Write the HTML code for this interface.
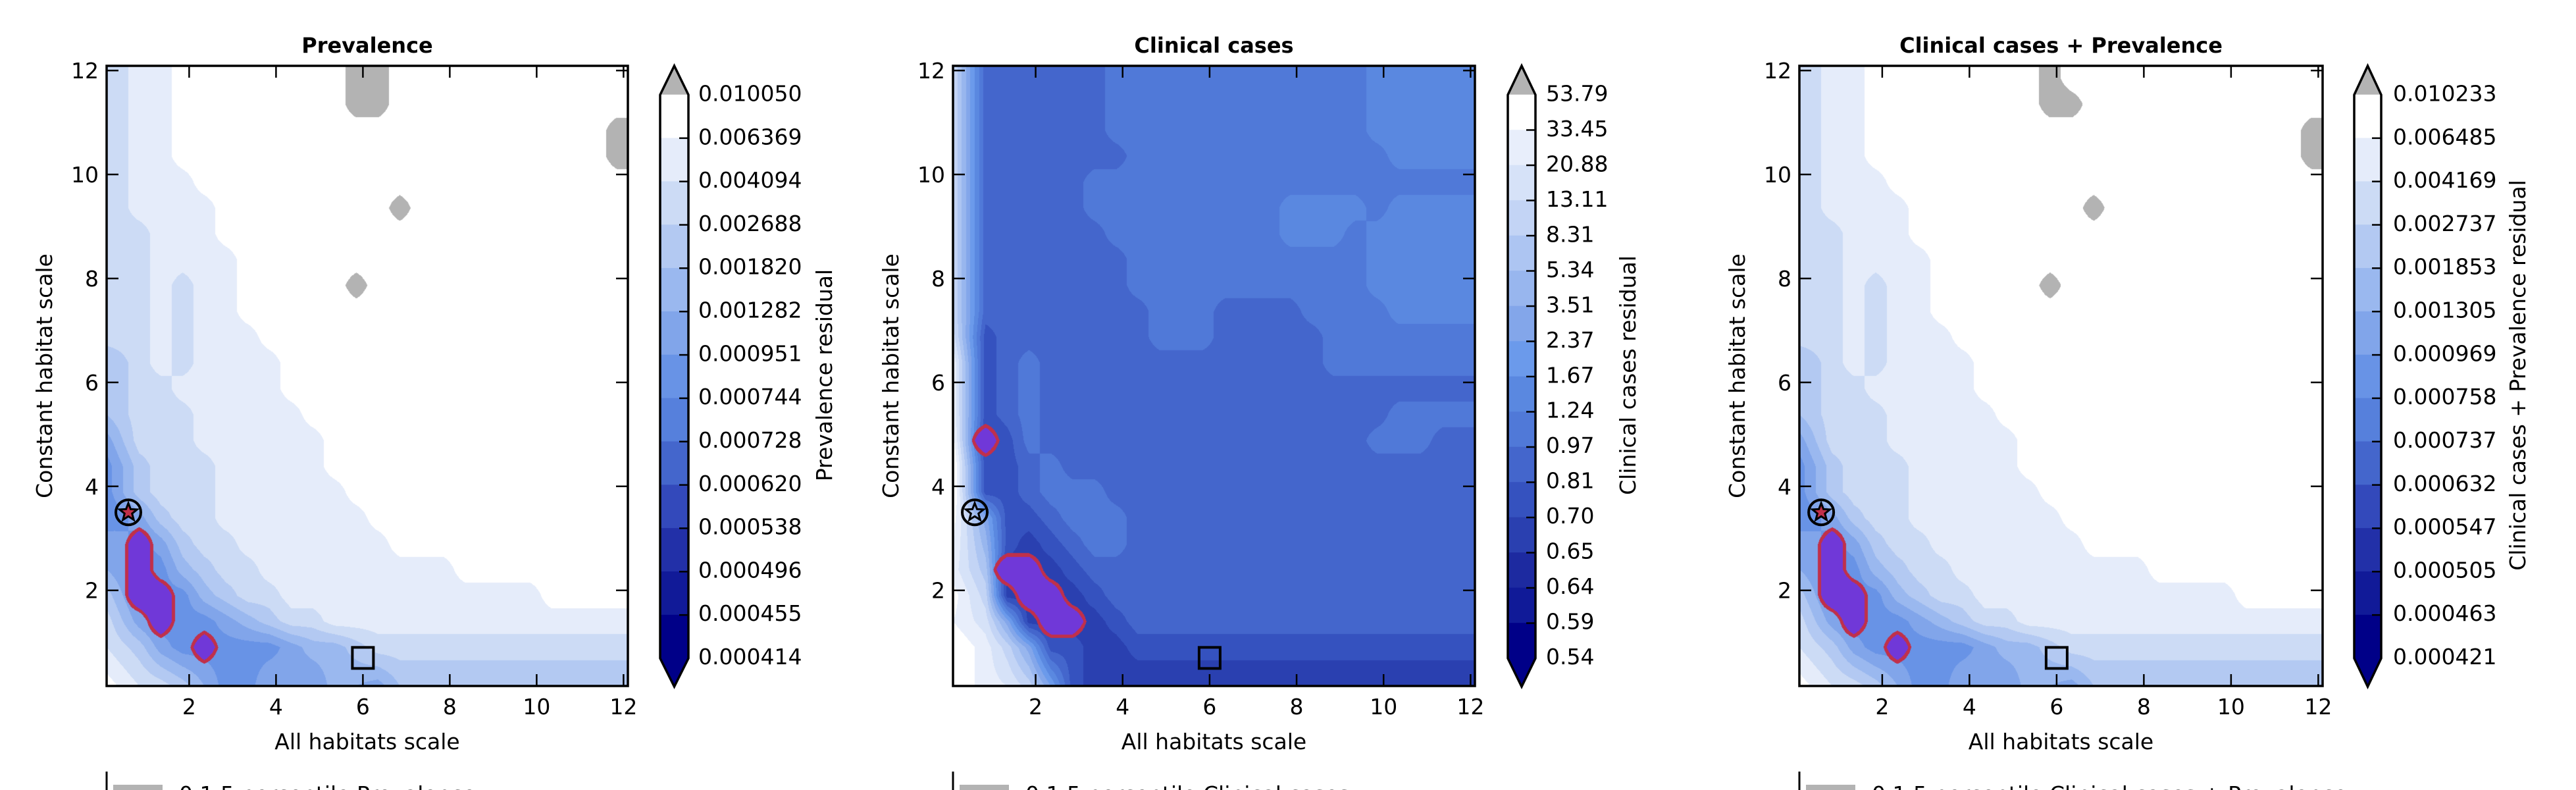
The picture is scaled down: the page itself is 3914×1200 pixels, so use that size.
<!DOCTYPE html>
<html><head><meta charset="utf-8"><style>
html,body{margin:0;padding:0;background:#fff;width:3914px;height:1200px;overflow:hidden;position:relative}
svg{display:block;position:absolute;left:0;top:0;font-family:"DejaVu Sans","Liberation Sans",sans-serif}
canvas{position:absolute;display:block}
</style></head><body>
<svg id="fig" width="3914" height="1200" viewBox="0 0 3914 1200" xmlns="http://www.w3.org/2000/svg"></svg>
<script>
// ---- data ----
const xTicks = [2,4,6,8,10,12];
const yTicks = [2,4,6,8,10,12];
const prevTicks = ["0.010050","0.006369","0.004094","0.002688","0.001820","0.001282","0.000951","0.000744","0.000728","0.000620","0.000538","0.000496","0.000455","0.000414"];
const clinTicks = ["53.79","33.45","20.88","13.11","8.31","5.34","3.51","2.37","1.67","1.24","0.97","0.81","0.70","0.65","0.64","0.59","0.54"];
const combTicks = ["0.010233","0.006485","0.004169","0.002737","0.001853","0.001305","0.000969","0.000758","0.000737","0.000632","0.000547","0.000505","0.000463","0.000421"];
const starPos = [0.6, 3.5];
const squarePos = [6.0, 0.7];
// level grids: rows from top (y=12) to bottom, 24 columns from x=0.1 to 12.1
const prevRows = [
"21100000000gg00000000000",
"21100000000gg00000000000",
"21100000000000000000000g",
"21100000000000000000000g",
"211100000000000000000000",
"2111100000000g0000000000",
"221110000000000000000000",
"221111000000000000000000",
"22121100000g000000000000",
"221211000000000000000000",
"221211100000000000000000",
"321211110000000000000000",
"322111110000000000000000",
"322211111000000000000000",
"422211111100000000000000",
"532221111100000000000000",
"532221111110000000000000",
"653221111111000000000000",
"5p5322111111100000000000",
"5p6432211111111100000000",
"4pp643221111111111110000",
"35p665432211111111111111",
"2356p6665443222222222222",
"123456655544433333333333"];
const clinRows = [
"5aaaaaa99999999999988888",
"5aaaaaa99999999999988888",
"5aaaaaa99999999999988888",
"5aaaaaaa9999999999998888",
"5aaaaa999999999999999999",
"5aaaaa999999999888898888",
"5aaaaaa99999999888988888",
"5aaaaaaa9999999999988888",
"5aaaaaaa9999999999988888",
"5aaaaaaaa999aaaa99998888",
"5baaaaaaa999aaaaa9999999",
"4ba9aaaaaaaaaaaaa9999999",
"4ba9aaaaaaaaaaaaaaaaaaaa",
"4ba9aaaaaaaaaaaaaaaa9999",
"4pb9aaaaaaaaaaaaaaa999aa",
"3bba9aaaaaaaaaaaaaaaaaaa",
"3bba999aaaaaaaaaaaaaaaaa",
"26bba999aaaaaaaaaaaaaaaa",
"25bcba99aaaaaaaaaaaaaaaa",
"24ppcbaaaaaaaaaaaaaaaaaa",
"13cppcbaaaaaaaaaaaaaaaaa",
"126cppcbaaaaaaaaaaaaaaaa",
"0136bbccbbbbbbbbbbbbbbbb",
"01248bcccccccccccccccccc"];
const combRows = [
"21100000000g000000000000",
"21100000000gg00000000000",
"21100000000000000000000g",
"21100000000000000000000g",
"211100000000000000000000",
"2111100000000g0000000000",
"221110000000000000000000",
"221111000000000000000000",
"22121100000g000000000000",
"221211000000000000000000",
"221211100000000000000000",
"321211110000000000000000",
"322111110000000000000000",
"322211111000000000000000",
"422211111100000000000000",
"532221111100000000000000",
"532221111110000000000000",
"653221111111000000000000",
"5p5322111111100000000000",
"5p6432211111111100000000",
"4pp643221111111111110000",
"35p665432211111111111111",
"2356p6665443222222222222",
"123456655544433333333333"];

const prevColors = ["#ffffff","#e5ecfa","#ccdbf5","#b3c9f2","#9ab8ef","#81a5ea","#6893e6","#5680dc","#4466cc","#3349bb","#2230a8","#111a98","#000088"];
const clinColors = ["#ffffff","#e8eefb","#d6e2f8","#c3d4f5","#adc5f2","#98b6ee","#83a6ea","#6b9aeb","#5a88e0","#5079d8","#4466cc","#3552bf","#2a40b0","#1d2aa0","#101a98","#000088"];

const panels = [
 {name:"prevalence", title:"Prevalence", rows:prevRows, colors:prevColors, pLevel:6, ticks:prevTicks, axL:162, axR:954, cbX:1003, cbW:43, lblX:1061, rotX:1252, cbLabel:"Prevalence residual", legend:"0.1 5 percentile Prevalence", starRed:true},
 {name:"clinical", title:"Clinical cases", rows:clinRows, colors:clinColors, pLevel:12, ticks:clinTicks, axL:1448, axR:2241, cbX:2291, cbW:42, lblX:2349, rotX:2473, cbLabel:"Clinical cases residual", legend:"0.1 5 percentile Clinical cases", starRed:false},
 {name:"combined", title:"Clinical cases + Prevalence", rows:combRows, colors:prevColors, pLevel:6, ticks:combTicks, axL:2734, axR:3529, cbX:3577, cbW:41, lblX:3636, rotX:3825, cbLabel:"Clinical cases + Prevalence residual", legend:"0.1 5 percentile Clinical cases + Prevalence", starRed:true}
];
const axT=100, axB=1042, xmin=0.1, xmax=12.1, ymin=0.16, ymax=12.09;
const NS="http://www.w3.org/2000/svg";
const svg=document.getElementById('fig');
function mk(tag, attrs, parent){const e=document.createElementNS(NS,tag);for(const k in attrs)e.setAttribute(k,attrs[k]);(parent||svg).appendChild(e);return e;}
function hex(c){return [parseInt(c.substr(1,2),16),parseInt(c.substr(3,2),16),parseInt(c.substr(5,2),16)];}

function drawField(p){
  const W=p.axR-p.axL, H=axB-axT;
  const cv=document.createElement('canvas');
  cv.width=W; cv.height=H;
  cv.style.left=p.axL+'px'; cv.style.top=axT+'px';
  
  
  document.body.insertBefore(cv, svg);
  const nr=p.rows.length, nc=p.rows[0].length;
  const L=[],PM=[],GM=[];
  p.rows.forEach(row=>{
    const a=[],b=[],c=[];
    for(const ch of row){
      if(ch==='p'){a.push(p.pLevel);b.push(1);c.push(0);}
      else if(ch==='g'){a.push(0);b.push(0);c.push(1);}
      else {a.push(parseInt(ch,36));b.push(0);c.push(0);}
    }
    L.push(a);PM.push(b);GM.push(c);
  });
  const cols=p.colors.map(hex), nb=cols.length;
  const purple=hex('#7038d8'), red=hex('#c0304a'), gray=hex('#b3b3b3');
  const cw=W/nc, chh=H/nr;
  const ctx=cv.getContext('2d');
  const img=ctx.createImageData(W,H);
  function interp(G,fx,fy,clampT){
    let i0=Math.max(0,Math.min(nc-2,Math.floor(fx))), j0=Math.max(0,Math.min(nr-2,Math.floor(fy)));
    let tx=fx-i0, ty=fy-j0;
    if(clampT){tx=Math.max(0,Math.min(1,tx));ty=Math.max(0,Math.min(1,ty));}
    const a=G[j0][i0],b=G[j0][i0+1],c=G[j0+1][i0],d=G[j0+1][i0+1];
    return (a*(1-tx)+b*tx)*(1-ty)+(c*(1-tx)+d*tx)*ty;
  }
  for(let y=0;y<H;y++){
    const fy=(y+0.5)/chh-0.5;
    for(let x=0;x<W;x++){
      const fx=(x+0.5)/cw-0.5;
      let v=interp(L,fx,fy,false);
      let k=Math.round(v); if(k<0)k=0; if(k>nb-1)k=nb-1;
      let col=cols[k];
      const g=interp(GM,fx,fy,true);
      if(g>0.5) col=gray;
      const pm=interp(PM,fx,fy,true);
      if(pm>=0.5) col=purple; else if(pm>=0.36) col=red;
      const o=(y*W+x)*4;
      img.data[o]=col[0];img.data[o+1]=col[1];img.data[o+2]=col[2];img.data[o+3]=255;
    }
  }
  ctx.putImageData(img,0,0);
}

panels.forEach(p=>{
  drawField(p);
  const sx=v=>p.axL+(v-xmin)/(xmax-xmin)*(p.axR-p.axL);
  const sy=v=>axB-(v-ymin)/(ymax-ymin)*(axB-axT);
  const g=mk('g',{});
  
  
  // markers
  const cx=sx(starPos[0]), cy=sy(starPos[1]);
  const mg=mk('g',{},g);
  
  
  mk('circle',{cx:cx,cy:cy,r:19,fill:'none',stroke:'#000','stroke-width':4},mg);
  let pts=[];for(let i=0;i<10;i++){const a=-Math.PI/2+i*Math.PI/5;const rr=i%2?6:14;pts.push((cx+rr*Math.cos(a)).toFixed(1)+','+(cy+rr*Math.sin(a)).toFixed(1));}
  mk('polygon',{points:pts.join(' '),fill:p.starRed?'#c0304a':'none',stroke:'#000','stroke-width':3},mg);
  const sq=mk('rect',{x:sx(squarePos[0])-16,y:sy(squarePos[1])-16,width:32,height:32,fill:'none',stroke:'#000','stroke-width':4},g);
  
  
  // frame + ticks
  const fr=mk('rect',{x:p.axL,y:axT,width:p.axR-p.axL,height:axB-axT,fill:'none',stroke:'#000','stroke-width':3.5},g);
  
  
  xTicks.forEach(t=>{
    const x=sx(t);
    mk('line',{x1:x,x2:x,y1:axB,y2:axB-18,stroke:'#000','stroke-width':2.5},g);
    mk('line',{x1:x,x2:x,y1:axT,y2:axT+18,stroke:'#000','stroke-width':2.5},g);
    const tx=mk('text',{x:x,y:1085,'font-size':33,'text-anchor':'middle'},g);tx.textContent=t;
    
    
  });
  yTicks.forEach(t=>{
    const y=sy(t);
    mk('line',{x1:p.axL,x2:p.axL+18,y1:y,y2:y,stroke:'#000','stroke-width':2.5},g);
    mk('line',{x1:p.axR,x2:p.axR-18,y1:y,y2:y,stroke:'#000','stroke-width':2.5},g);
    const ty=mk('text',{x:p.axL-12,y:y+12,'font-size':33,'text-anchor':'end'},g);ty.textContent=t;
    
    
  });
  const mid=(p.axL+p.axR)/2;
  const tt=mk('text',{x:mid,y:80,'font-size':32,'font-weight':'bold','text-anchor':'middle'},g);tt.textContent=p.title;
  
  
  const xl=mk('text',{x:mid,y:1138,'font-size':33,'text-anchor':'middle'},g);xl.textContent='All habitats scale';
  
  
  const yx=p.axL-95, yc=(axT+axB)/2;
  const yl=mk('text',{x:yx,y:yc,'font-size':33,'text-anchor':'middle',transform:`rotate(-90 ${yx} ${yc}) translate(0 12)`},g);yl.textContent='Constant habitat scale';
  
  
  // colorbar
  const cb=mk('g',{},g);
  
  
  const cbT=144, cbB=1000, tipT=100, tipB=1043, nb=p.colors.length, bh=(cbB-cbT)/nb;
  const x0=p.cbX, x1=p.cbX+p.cbW, xm=(x0+x1)/2;
  mk('polygon',{points:`${x0},${cbT} ${xm},${tipT} ${x1},${cbT}`,fill:'#b3b3b3'},cb);
  mk('polygon',{points:`${x0},${cbB} ${xm},${tipB} ${x1},${cbB}`,fill:p.colors[nb-1]},cb);
  p.colors.forEach((c,i)=>{ mk('rect',{x:x0,y:cbT+i*bh-0.3,width:p.cbW,height:bh+0.6,fill:c},cb); });
  for(let i=1;i<nb;i++){ mk('line',{x1:x1-14,x2:x1,y1:cbT+i*bh,y2:cbT+i*bh,stroke:'#000','stroke-width':2.5},cb); }
  mk('polygon',{points:`${x0},${cbT} ${xm},${tipT} ${x1},${cbT} ${x1},${cbB} ${xm},${tipB} ${x0},${cbB}`,fill:'none',stroke:'#000','stroke-width':3.5},cb);
  const nt=p.ticks.length, lt=141.5, lb=997;
  p.ticks.forEach((t,i)=>{
    const y=lt+i*(lb-lt)/(nt-1);
    const te=mk('text',{x:p.lblX,y:y+12,'font-size':33},cb);te.textContent=t;
    
    
  });
  const rc=570;
  const rl=mk('text',{x:p.rotX,y:rc,'font-size':33,'text-anchor':'middle',transform:`rotate(-90 ${p.rotX} ${rc}) translate(0 12)`},cb);rl.textContent=p.cbLabel;
  
  
  // legend (clipped at bottom)
  const lg=mk('g',{},g);
  
  
  mk('line',{x1:p.axL,x2:p.axL,y1:1172,y2:1200,stroke:'#000','stroke-width':3},lg);
  mk('rect',{x:p.axL+10,y:1192,width:75,height:12,fill:'#b3b3b3'},lg);
  const lt2=mk('text',{x:p.axL+110,y:1218,'font-size':33},lg);lt2.textContent=p.legend;
  
  
});
</script>
</body></html>
